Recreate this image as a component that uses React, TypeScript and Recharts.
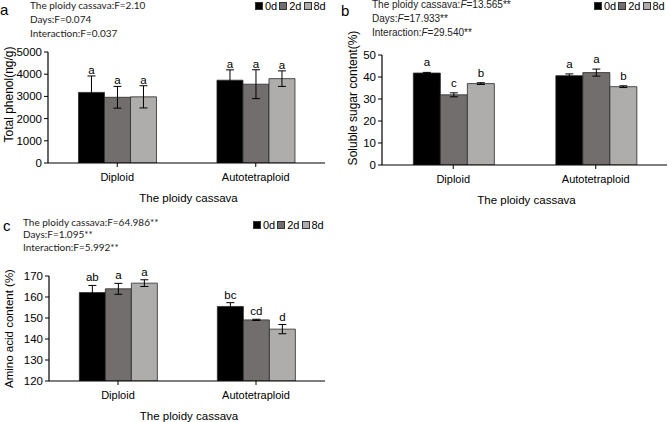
import React from "react";
import {
  BarChart,
  Bar,
  XAxis,
  YAxis,
  ErrorBar,
  LabelList,
  Legend
} from "recharts";

const categories = ["Diploid", "Autotetraploid"];
const dayNames = ["0d", "2d", "8d"];
const barColors = ["#000000", "#726e6e", "#afacac"];

// a: total phenol
const phenol0d = [3180, 3730];
const phenol2d = [2960, 3550];
const phenol8d = [2980, 3800];
const phenolErr0d = [740, 465];
const phenolErr2d = [490, 650];
const phenolErr8d = [500, 350];
const phenolSig0d = ["a", "a"];
const phenolSig2d = ["a", "a"];
const phenolSig8d = ["a", "a"];
const phenolTicks = [0, 1000, 2000, 3000, 4000, 5000];

// b: soluble sugar
const sugar0d = [41.8, 40.6];
const sugar2d = [31.9, 42.0];
const sugar8d = [37.0, 35.6];
const sugarErr0d = [0.3, 0.8];
const sugarErr2d = [0.9, 1.6];
const sugarErr8d = [0.4, 0.4];
const sugarSig0d = ["a", "a"];
const sugarSig2d = ["c", "a"];
const sugarSig8d = ["b", "b"];
const sugarTicks = [0, 10, 20, 30, 40, 50];

// c: amino acid
const amino0d = [162.1, 155.5];
const amino2d = [163.9, 149.1];
const amino8d = [166.6, 144.7];
const aminoErr0d = [3.4, 1.8];
const aminoErr2d = [2.6, 0.3];
const aminoErr8d = [1.6, 2.2];
const aminoSig0d = ["ab", "bc"];
const aminoSig2d = ["a", "cd"];
const aminoSig8d = ["a", "d"];
const aminoTicks = [120, 130, 140, 150, 160, 170];

const arial = '"Liberation Sans", Arial, sans-serif';
const calibri = 'Lato, "Open Sans", sans-serif';

function buildRows(values: number[][], errors: number[][], letters: string[][]) {
  return categories.map((category, i) => ({
    category,
    v0: values[0][i],
    v1: values[1][i],
    v2: values[2][i],
    e0: errors[0][i],
    e1: errors[1][i],
    e2: errors[2][i],
    s0: letters[0][i],
    s1: letters[1][i],
    s2: letters[2][i]
  }));
}

const phenolRows = buildRows(
  [phenol0d, phenol2d, phenol8d],
  [phenolErr0d, phenolErr2d, phenolErr8d],
  [phenolSig0d, phenolSig2d, phenolSig8d]
);
const sugarRows = buildRows(
  [sugar0d, sugar2d, sugar8d],
  [sugarErr0d, sugarErr2d, sugarErr8d],
  [sugarSig0d, sugarSig2d, sugarSig8d]
);
const aminoRows = buildRows(
  [amino0d, amino2d, amino8d],
  [aminoErr0d, aminoErr2d, aminoErr8d],
  [aminoSig0d, aminoSig2d, aminoSig8d]
);

function DayLegend(props: any) {
  const items = props.payload || [];
  return (
    <div style={{ display: "flex", alignItems: "center", fontFamily: arial, fontSize: 11, whiteSpace: "nowrap" }}>
      {items.map((item: any) => (
        <span key={item.value} style={{ display: "inline-flex", alignItems: "center", marginRight: 2 }}>
          <span
            style={{
              display: "inline-block",
              width: 8,
              height: 8,
              boxSizing: "border-box",
              background: item.color,
              border: "1px solid #333",
              marginRight: 2
            }}
          />
          {item.value}
        </span>
      ))}
    </div>
  );
}

type PanelProps = {
  rows: any[];
  width: number;
  height: number;
  margin: { top: number; right: number; bottom: number; left: number };
  domain: [number, number];
  ticks: number[];
  yLabel: string;
  yLabelSize: number;
  yLabelDx: number;
  yLabelDy: number;
  xAxisHeight: number;
  letterGap: number;
  legendLeft: number;
  legendTop: number;
};

function Panel(p: PanelProps) {
  const base = p.domain[0];

  const sigLabel = (valueKey: string, errKey: string) => (lp: any) => {
    const row = p.rows[lp.index];
    if (!row) return null;
    const x = Number(lp.x);
    const y = Number(lp.y);
    const w = Number(lp.width);
    const h = Number(lp.height);
    const pxPerUnit = h / (row[valueKey] - base);
    const errTop = y - row[errKey] * pxPerUnit;
    return (
      <text
        x={x + w / 2}
        y={errTop - p.letterGap}
        textAnchor="middle"
        fontFamily={arial}
        fontSize={11.5}
        fill="#000"
      >
        {lp.value}
      </text>
    );
  };

  const yTitle = (lp: any) => {
    const vb = lp.viewBox;
    const cx = vb.x + vb.width + p.yLabelDx;
    const cy = vb.y + vb.height / 2 + p.yLabelDy;
    return (
      <text
        x={cx}
        y={cy}
        transform={`rotate(-90, ${cx}, ${cy})`}
        textAnchor="middle"
        dominantBaseline="central"
        fontFamily={arial}
        fontSize={p.yLabelSize}
        fill="#000"
      >
        {p.yLabel}
      </text>
    );
  };

  const xTitle = (lp: any) => {
    const vb = lp.viewBox;
    return (
      <text
        x={vb.x + vb.width / 2 + 2}
        y={vb.y + 35}
        textAnchor="middle"
        dominantBaseline="central"
        fontFamily={arial}
        fontSize={11.5}
        fill="#000"
      >
        The ploidy cassava
      </text>
    );
  };

  const keys = ["0", "1", "2"];

  return (
    <BarChart
      width={p.width}
      height={p.height}
      data={p.rows}
      margin={p.margin}
      barCategoryGap="22%"
      barGap={0}
    >
      <XAxis
        dataKey="category"
        height={p.xAxisHeight}
        tickSize={4}
        tickMargin={6}
        axisLine={{ stroke: "#000", strokeWidth: 1.2 }}
        tickLine={{ stroke: "#000" }}
        tick={{ fill: "#000", fontSize: 11, fontFamily: arial }}
        label={{ content: xTitle }}
      />
      <YAxis
        width={40}
        domain={p.domain}
        ticks={p.ticks}
        allowDataOverflow
        tickSize={4}
        tickMargin={2}
        axisLine={{ stroke: "#000", strokeWidth: 1.2 }}
        tickLine={{ stroke: "#000" }}
        tick={{ fill: "#000", fontSize: 11.5, fontFamily: arial }}
        label={{ content: yTitle }}
      />
      <Legend
        layout="horizontal"
        verticalAlign="middle"
        align="center"
        content={DayLegend}
        wrapperStyle={{ left: p.legendLeft, top: p.legendTop, width: 80 }}
      />
      {keys.map((k, i) => (
        <Bar
          key={k}
          dataKey={"v" + k}
          name={dayNames[i]}
          fill={barColors[i]}
          stroke="#2a2a2a"
          strokeWidth={0.8}
          isAnimationActive={false}
        >
          <ErrorBar dataKey={"e" + k} width={4} stroke="#000" strokeWidth={1} direction="y" isAnimationActive={false} />
          <LabelList dataKey={"s" + k} content={sigLabel("v" + k, "e" + k)} />
        </Bar>
      ))}
    </BarChart>
  );
}

const statStyle: React.CSSProperties = {
  position: "absolute",
  whiteSpace: "nowrap",
  color: "#222"
};

export default function App() {
  return (
    <div style={{ position: "absolute", left: 0, top: 0, width: 669, height: 422, background: "#fff", overflow: "hidden" }}>
      {/* panel a */}
      <div style={{ position: "absolute", left: 0, top: 0 }}>
        <Panel
          rows={phenolRows}
          width={335}
          height={210}
          margin={{ top: 52, right: 10, bottom: 2, left: 8 }}
          domain={[0, 5000]}
          ticks={phenolTicks}
          yLabel="Total phenol(ng/g)"
          yLabelSize={12}
          yLabelDx={-39}
          yLabelDy={-13}
          xAxisHeight={45}
          letterGap={2}
          legendLeft={255}
          legendTop={0}
        />
      </div>
      {/* panel b */}
      <div style={{ position: "absolute", left: 335, top: 0 }}>
        <Panel
          rows={sugarRows}
          width={334}
          height={210}
          margin={{ top: 55, right: 2, bottom: 2, left: 7 }}
          domain={[0, 50]}
          ticks={sugarTicks}
          yLabel="Soluble sugar content(%)"
          yLabelSize={12}
          yLabelDx={-29}
          yLabelDy={-12}
          xAxisHeight={43}
          letterGap={6}
          legendLeft={259}
          legendTop={0}
        />
      </div>
      {/* panel c */}
      <div style={{ position: "absolute", left: 0, top: 210 }}>
        <Panel
          rows={aminoRows}
          width={335}
          height={212}
          margin={{ top: 66, right: 10, bottom: 1, left: 9 }}
          domain={[120, 170]}
          ticks={aminoTicks}
          yLabel="Amino acid content (%)"
          yLabelSize={11.5}
          yLabelDx={-40}
          yLabelDy={0}
          xAxisHeight={40}
          letterGap={4}
          legendLeft={253}
          legendTop={9}
        />
      </div>

      <div style={{ position: "absolute", left: 0, top: 1, fontFamily: arial, fontSize: 15 }}>a</div>
      <div style={{ position: "absolute", left: 341, top: 2, fontFamily: arial, fontSize: 15 }}>b</div>
      <div style={{ position: "absolute", left: 3, top: 217, fontFamily: arial, fontSize: 15 }}>c</div>

      <div style={{ ...statStyle, left: 30, top: -2, fontFamily: calibri, fontSize: 10, lineHeight: "14px" }}>
        The ploidy cassava:F=2.10
        <br />
        Days:F=0.074
        <br />
        Interaction:F=0.037
      </div>
      <div style={{ ...statStyle, left: 372, top: -2, fontFamily: arial, fontSize: 10, lineHeight: "14px" }}>
        The ploidy cassava:<i>F</i>=13.565**
        <br />
        Days:<i>F</i>=17.933**
        <br />
        Interaction:<i>F</i>=29.540**
      </div>
      <div style={{ ...statStyle, left: 23, top: 215.5, fontFamily: calibri, fontSize: 10, lineHeight: "12.5px" }}>
        The ploidy cassava:F=64.986**
        <br />
        Days:F=1.095**
        <br />
        Interaction:F=5.992**
      </div>
    </div>
  );
}
